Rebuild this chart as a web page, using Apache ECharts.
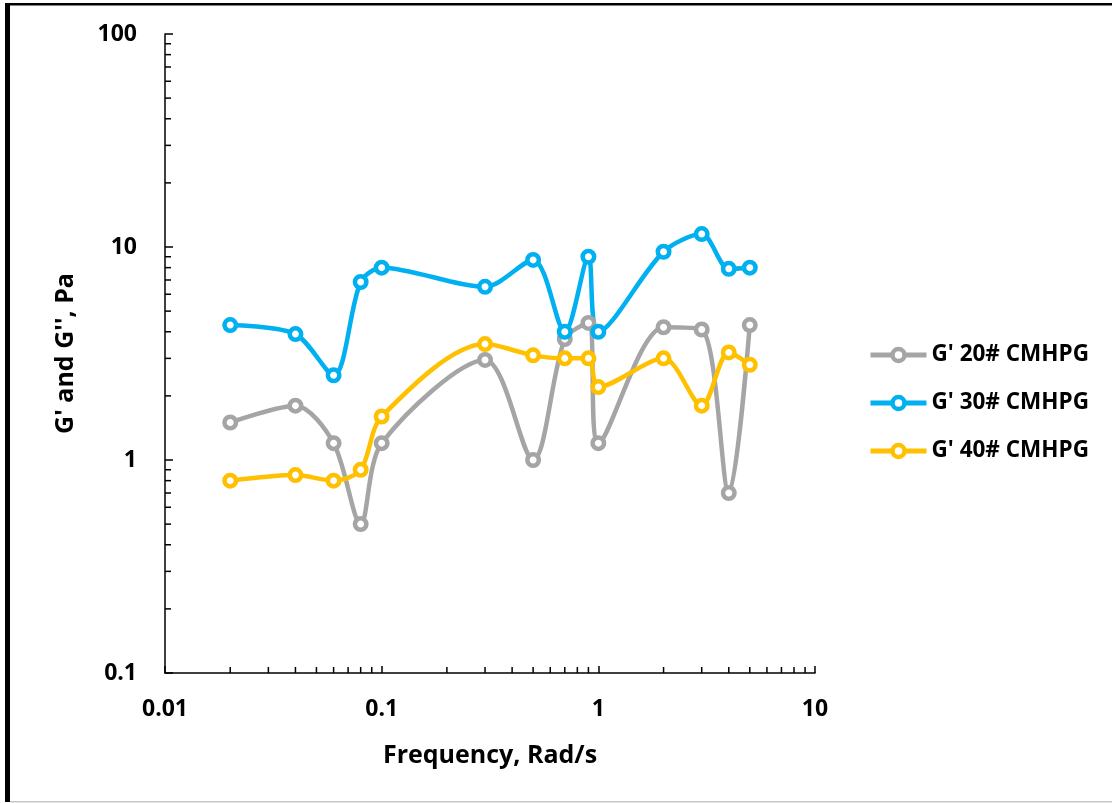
<!DOCTYPE html>
<html>
<head>
<meta charset="utf-8">
<script src="https://cdn.jsdelivr.net/npm/echarts@6/dist/echarts.min.js"></script>
<style>
  html, body { margin: 0; padding: 0; background: #fff; }
  #chart { width: 1112px; height: 803px; }
</style>
</head>
<body>
<div id="chart"></div>
<script>
// Angular frequency (rad/s)
const frequency = [0.02, 0.04, 0.06, 0.08, 0.1, 0.3, 0.5, 0.7, 0.9, 1, 2, 3, 4, 5];

// Storage modulus G' (Pa) for each CMHPG sample
const g20 = [1.5, 1.8, 1.2, 0.5, 1.2, 2.95, 1.0, 3.7, 4.4, 1.2, 4.2, 4.1, 0.7, 4.3];
const g30 = [4.3, 3.9, 2.5, 6.85, 8.0, 6.5, 8.7, 4.0, 9.0, 4.0, 9.5, 11.5, 7.9, 8.0];
const g40 = [0.8, 0.85, 0.8, 0.9, 1.6, 3.5, 3.1, 3.0, 3.0, 2.2, 3.0, 1.8, 3.2, 2.8];

const seriesNames = ["G' 20# CMHPG", "G' 30# CMHPG", "G' 40# CMHPG"];

// Minor tick positions on the logarithmic axes
const xMinorTicks = [0.02, 0.03, 0.04, 0.05, 0.06, 0.07, 0.08, 0.09,
                     0.2, 0.3, 0.4, 0.5, 0.6, 0.7, 0.8, 0.9,
                     2, 3, 4, 5, 6, 7, 8, 9];
const yMinorTicks = [0.2, 0.3, 0.4, 0.5, 0.6, 0.7, 0.8, 0.9,
                     2, 3, 4, 5, 6, 7, 8, 9,
                     20, 30, 40, 50, 60, 70, 80, 90];

const X_MIN = 0.01, X_MAX = 10, Y_MIN = 0.1, Y_MAX = 100;
const FONT = '"Open Sans", Lato, sans-serif';
const colors = ['#A5A5A5', '#00B0F0', '#FFC000'];

function pairs(ys) {
  return frequency.map((f, i) => [f, ys[i]]);
}

function lineSeries(name, ys, color) {
  return {
    name: name,
    type: 'line',
    data: pairs(ys),
    smooth: 0.3,
    symbol: 'circle',
    symbolSize: 11.5,
    showSymbol: true,
    lineStyle: { color: color, width: 4.5 },
    itemStyle: { color: '#ffffff', borderColor: color, borderWidth: 4.5 },
    emphasis: { disabled: true },
    z: 3
  };
}

// Minor ticks drawn through the axes' own coordinate mapping
const tickSeries = {
  type: 'custom',
  silent: true,
  z: 2,
  data: xMinorTicks.map(v => ['x', v]).concat(yMinorTicks.map(v => ['y', v])),
  encode: { x: -1, y: -1 },
  renderItem: function (params, api) {
    const axis = api.value(0);
    const v = api.value(1);
    let p, shape;
    if (axis === 'x') {
      p = api.coord([v, Y_MIN]);
      shape = { x1: p[0], y1: p[1], x2: p[0], y2: p[1] - 6 };
    } else {
      p = api.coord([X_MIN, v]);
      shape = { x1: p[0], y1: p[1], x2: p[0] + 6, y2: p[1] };
    }
    return {
      type: 'line',
      shape: shape,
      style: { stroke: '#000', lineWidth: 1.5 }
    };
  }
};

const chart = echarts.init(document.getElementById('chart'), null, { renderer: 'canvas' });

chart.setOption({
  backgroundColor: '#ffffff',
  animation: false,
  grid: { left: 165, top: 34, right: 297, bottom: 130, containLabel: false },
  legend: {
    orient: 'vertical',
    left: 863,
    top: 338,
    itemWidth: 56,
    itemHeight: 15,
    itemGap: 24,
    selectedMode: false,
    data: seriesNames,
    lineStyle: { width: 5 },
    itemStyle: { borderWidth: 4.5 },
    textStyle: {
      fontFamily: FONT, fontWeight: 'bold', fontSize: 22.5, color: '#000', lineHeight: 24
    }
  },
  xAxis: {
    type: 'log',
    logBase: 10,
    min: X_MIN,
    max: X_MAX,
    name: 'Frequency, Rad/s',
    nameLocation: 'middle',
    nameGap: 70,
    nameTextStyle: { fontFamily: FONT, fontWeight: 'bold', fontSize: 25, color: '#000' },
    axisLine: { show: true, lineStyle: { color: '#000', width: 1.5 } },
    axisTick: { show: true, inside: true, length: 7, lineStyle: { color: '#000', width: 1.5 } },
    axisLabel: {
      fontFamily: FONT, fontWeight: 'bold', fontSize: 23, color: '#000', margin: 25,
      formatter: v => String(+v.toPrecision(3))
    },
    splitLine: { show: false },
    minorTick: { show: false }
  },
  yAxis: {
    type: 'log',
    logBase: 10,
    min: Y_MIN,
    max: Y_MAX,
    name: "G' and G'', Pa",
    nameLocation: 'middle',
    nameGap: 87,
    nameTextStyle: { fontFamily: FONT, fontWeight: 'bold', fontSize: 25, color: '#000' },
    axisLine: { show: true, lineStyle: { color: '#000', width: 1.5 } },
    axisTick: { show: true, inside: true, length: 8, lineStyle: { color: '#000', width: 1.5 } },
    axisLabel: {
      fontFamily: FONT, fontWeight: 'bold', fontSize: 23, color: '#000', margin: 28,
      formatter: v => String(+v.toPrecision(3))
    },
    splitLine: { show: false },
    minorTick: { show: false }
  },
  graphic: [
    { type: 'rect', left: 5, top: 3, shape: { width: 1107, height: 2.5 }, style: { fill: '#000' }, silent: true },
    { type: 'rect', left: 5, top: 3, shape: { width: 5, height: 799 }, style: { fill: '#000' }, silent: true },
    { type: 'rect', left: 10, top: 801, shape: { width: 1102, height: 1.5 }, style: { fill: '#c8c8c8' }, silent: true }
  ],
  series: [
    tickSeries,
    lineSeries(seriesNames[0], g20, colors[0]),
    lineSeries(seriesNames[1], g30, colors[1]),
    lineSeries(seriesNames[2], g40, colors[2])
  ]
});
</script>
</body>
</html>
